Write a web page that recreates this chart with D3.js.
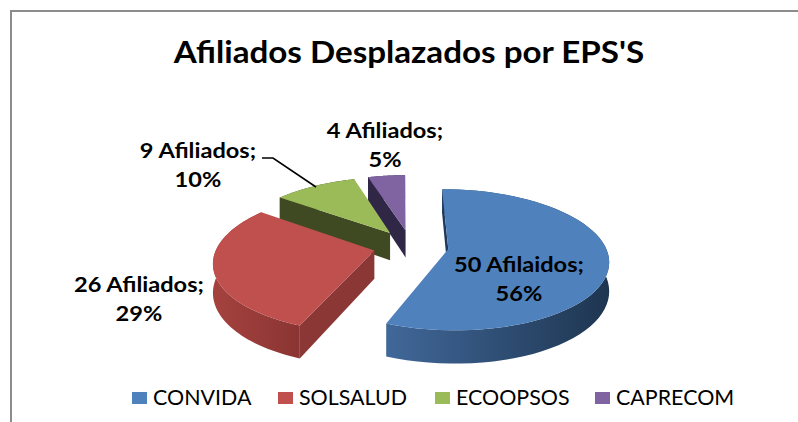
<!DOCTYPE html>
<html>
<head>
<meta charset="utf-8">
<script src="https://cdn.jsdelivr.net/npm/d3@7"></script>
<style>
  html, body { margin: 0; padding: 0; background: #fff; }
  text { font-family: Lato, "Open Sans", sans-serif; fill: #000; }
</style>
</head>
<body>
<svg width="798" height="422"></svg>
<script>
const categories = ['CONVIDA', 'SOLSALUD', 'ECOOPSOS', 'CAPRECOM'];
const values = [50, 26, 9, 4];
const dataLabels = [
  ['50 Afilaidos;', '56%'],
  ['26 Afiliados;', '29%'],
  ['9 Afiliados;', '10%'],
  ['4 Afiliados;', '5%']
];
const topColors = ['#4f81bd', '#bf504d', '#9bbb59', '#8064a2'];
const wallLight = ['#41689a', '#a5423f', '#4a5a28', '#3a2f50'];
const wallDark = ['#1e3550', '#8a3533', '#3d4921', '#302645'];
const cutColors = ['#1f3a5c', '#8b3735', '#3f4a22', '#302645'];

const svg = d3.select('svg');

// the source text is a stretched Calibri, so widen each line a bit
function stretch(sel, k) {
  sel.each(function() {
    d3.select(this)
      .attr('textLength', this.getComputedTextLength() * k)
      .attr('lengthAdjust', 'spacingAndGlyphs');
  });
}

// frame of the chart, cut by the window on the right and bottom
svg.append('path')
  .attr('d', 'M798,11H11V422')
  .attr('fill', 'none')
  .attr('stroke', '#8c8c8c')
  .attr('stroke-width', 2);

svg.append('text')
  .attr('x', 409)
  .attr('y', 63)
  .attr('text-anchor', 'middle')
  .style('font-size', '30px')
  .style('font-weight', 700)
  .text("Afiliados Desplazados por EPS'S")
  .call(stretch, 1.105);

// pie in model space, projected with a little perspective like Excel's 3D pie
const center = {x: 411, y: 246};
const scale = {x: 157, y: 68};
const eye = 6.6;
const depth = 28;
const explode = 0.24;

const pie = d3.pie()
  .sort(null)
  .startAngle(-0.5 * Math.PI / 180)
  .endAngle((360 - 0.5) * Math.PI / 180);
const slices = pie(values);

function project(mx, my, z) {
  const k = eye / (eye + my);
  return [center.x + scale.x * mx * k, center.y - scale.y * my * k + z * depth * k];
}

function slicePoint(d, angle, r, z) {
  const mid = (d.startAngle + d.endAngle) / 2;
  return project(
    explode * Math.sin(mid) + r * Math.sin(angle),
    explode * Math.cos(mid) + r * Math.cos(angle),
    z);
}

const line = d3.line();
const defs = svg.append('defs');

// back to front: purple, green, red, blue
[3, 2, 1, 0].forEach(i => {
  const d = slices[i];
  const angles = d3.range(0, 61).map(t => d.startAngle + (d.endAngle - d.startAngle) * t / 60);
  const rimTop = angles.map(a => slicePoint(d, a, 1, 0));
  const rimBottom = angles.map(a => slicePoint(d, a, 1, 1));
  const apexTop = slicePoint(d, 0, 0, 0);
  const apexBottom = slicePoint(d, 0, 0, 1);
  const g = svg.append('g').attr('class', 'slice');

  const xs = d3.extent(rimTop, p => p[0]);
  const grad = defs.append('linearGradient')
    .attr('id', 'wall' + i)
    .attr('gradientUnits', 'userSpaceOnUse')
    .attr('x1', xs[0]).attr('x2', xs[1])
    .attr('y1', 0).attr('y2', 0);
  grad.append('stop').attr('offset', 0).attr('stop-color', wallLight[i]);
  grad.append('stop').attr('offset', 1).attr('stop-color', wallDark[i]);

  g.append('path')
    .attr('d', line(rimTop.concat(rimBottom.slice().reverse())) + 'Z')
    .attr('fill', 'url(#wall' + i + ')');

  // only the first radius of each slice shows its cut face from this view
  g.append('path')
    .attr('d', line([apexTop, rimTop[0], rimBottom[0], apexBottom]) + 'Z')
    .attr('fill', cutColors[i]);

  g.append('path')
    .attr('d', line([apexTop].concat(rimTop)) + 'Z')
    .attr('fill', topColors[i]);
});

// leader line of the ECOOPSOS label
svg.append('path')
  .attr('d', 'M262,158H273L316,187')
  .attr('fill', 'none')
  .attr('stroke', '#000')
  .attr('stroke-width', 1.6);

const labelPos = [
  {x: 519, y: 272},
  {x: 139, y: 292},
  {x: 198, y: 158},
  {x: 385, y: 138}
];
dataLabels.forEach((lines, i) => {
  lines.forEach((s, j) => {
    svg.append('text')
      .attr('x', labelPos[i].x)
      .attr('y', labelPos[i].y + j * 28.5)
      .attr('text-anchor', 'middle')
      .style('font-size', '20px')
      .style('font-weight', 700)
      .text(s)
      .call(stretch, 1.18);
  });
});

const legendX = d3.scaleOrdinal().domain(categories).range([132, 278, 435, 595]);
const legend = svg.selectAll('g.legend')
  .data(categories)
  .enter()
  .append('g')
  .attr('class', 'legend')
  .attr('transform', d => 'translate(' + legendX(d) + ',392)');
legend.append('rect')
  .attr('width', 15)
  .attr('height', 12)
  .attr('fill', (d, i) => topColors[i]);
legend.append('text')
  .attr('x', 21)
  .attr('y', 13)
  .style('font-size', '21px')
  .text(d => d)
  .call(stretch, 1.02);
</script>
</body>
</html>
